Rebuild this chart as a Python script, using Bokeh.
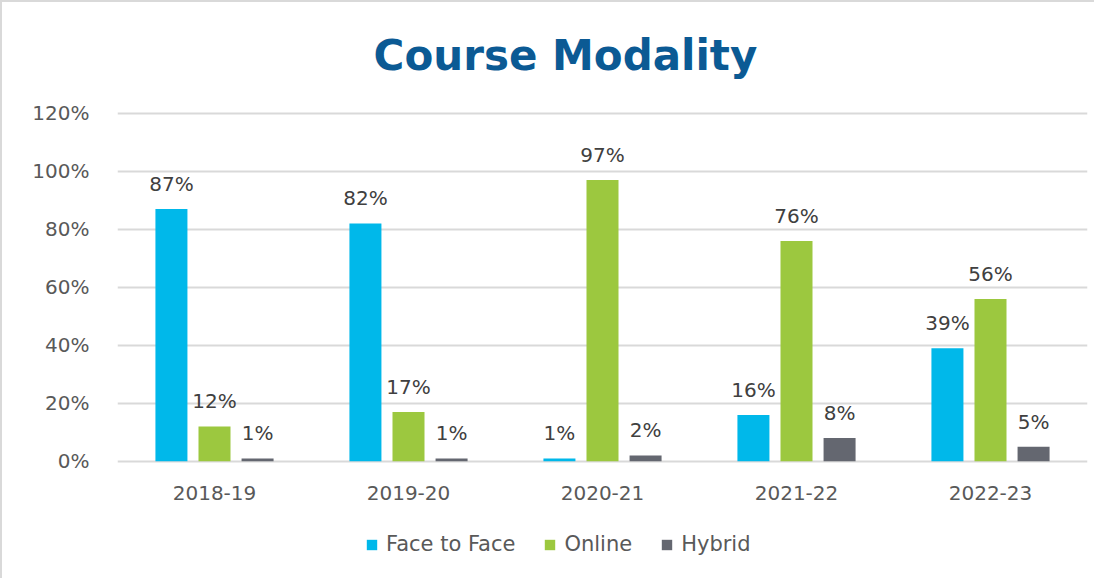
from bokeh.plotting import figure
from bokeh.models import (ColumnDataSource, FactorRange, Range1d, NumeralTickFormatter, LabelSet,
                          Label, Legend, LegendItem, FixedTicker)
from bokeh.transform import dodge
from bokeh.core.properties import value
from bokeh.embed import file_html
from bokeh.resources import INLINE

title_text = "Course Modality"
years = ["2018-19", "2019-20", "2020-21", "2021-22", "2022-23"]
face_to_face = [0.87, 0.82, 0.01, 0.16, 0.39]
online = [0.12, 0.17, 0.97, 0.76, 0.56]
hybrid = [0.01, 0.01, 0.02, 0.08, 0.05]
series_names = ["Face to Face", "Online", "Hybrid"]
colors = ["#00B8EA", "#9CC83F", "#646770"]
y_ticks = [0, 0.2, 0.4, 0.6, 0.8, 1.0, 1.2]

p = figure(x_range=FactorRange(*years), y_range=Range1d(-0.38, 1.582),
           frame_width=970, frame_height=569, width=1092, height=576,
           output_backend="svg", toolbar_location=None,
           min_border_left=115, min_border_right=7, min_border_top=0, min_border_bottom=7)
p.styles = {"border-left": "2px solid #d9d9d9", "border-top": "2px solid #d9d9d9"}

p.outline_line_color = None
p.xgrid.visible = False
p.xaxis.visible = False
p.ygrid.grid_line_color = "#d9d9d9"
p.ygrid.grid_line_width = 2
p.yaxis.ticker = FixedTicker(ticks=y_ticks)
p.yaxis.formatter = NumeralTickFormatter(format="0%")
p.yaxis.axis_line_color = None
p.yaxis.major_tick_line_color = None
p.yaxis.minor_tick_line_color = None
p.yaxis.major_label_text_font = "DejaVu Sans"
p.yaxis.major_label_text_font_size = "20px"
p.yaxis.major_label_text_color = "#595959"
p.yaxis.major_label_standoff = 22

# title
p.add_layout(Label(x=2.309, y=1.40, text=title_text, text_align="center", text_baseline="middle",
                   text_font="DejaVu Sans", text_font_size="42px", text_font_style="bold",
                   text_color="#0B5A94"))

# category labels
cat_src = ColumnDataSource(dict(year=years, y0=[0] * len(years)))
p.add_layout(LabelSet(x="year", y="y0", text="year", source=cat_src, y_offset=-32,
                      text_align="center", text_baseline="middle",
                      text_font=value("DejaVu Sans"), text_font_size=value("20px"),
                      text_color="#595959"))

values = [face_to_face, online, hybrid]
offsets = [-0.222, 0.0, 0.222]
items = []
for name, vals, col, off in zip(series_names, values, colors, offsets):
    src = ColumnDataSource(dict(year=years, v=vals, lab=[f"{round(x*100)}%" for x in vals]))
    r = p.vbar(x=dodge("year", off, range=p.x_range), top="v", width=0.165, source=src,
               fill_color=col, line_color=None)
    items.append(LegendItem(label=name, renderers=[r]))
    p.add_layout(LabelSet(x=dodge("year", off, range=p.x_range), y="v", text="lab", source=src,
                          text_align="center", text_baseline="alphabetic", y_offset=18,
                          text_font=value("DejaVu Sans"), text_font_size=value("20px"),
                          text_color="#404040"))

legend = Legend(items=items, orientation="horizontal", location=(248, 15),
                padding=0, margin=0, spacing=28, glyph_width=13, glyph_height=13,
                label_standoff=8, label_text_font="DejaVu Sans", label_text_font_size="21px",
                label_text_color="#595959", border_line_color=None, background_fill_alpha=0)
p.add_layout(legend, "center")

open("out.html", "w").write(file_html(p, INLINE))
